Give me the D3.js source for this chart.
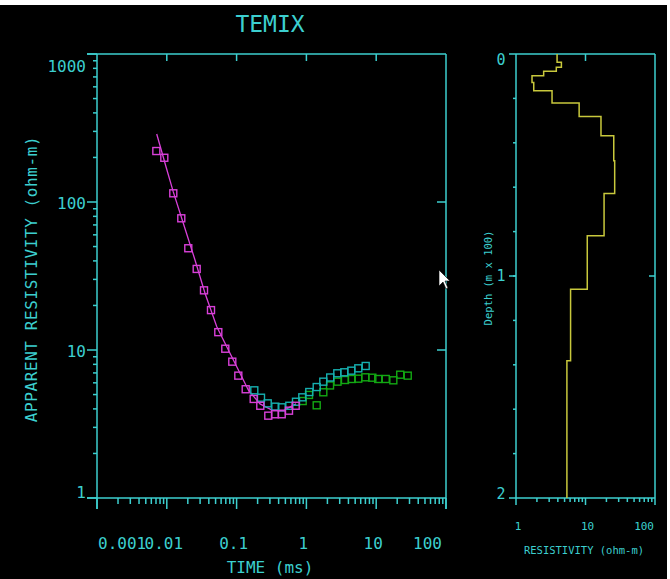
<!DOCTYPE html>
<html>
<head>
<meta charset="utf-8">
<script src="https://cdn.jsdelivr.net/npm/d3@7"></script>
<style>
  body { margin: 0; background: #fff; }
  svg text { font-family: "DejaVu Sans Mono", monospace; fill: #3ccfcf; }
</style>
</head>
<body>
<svg id="canvas" width="670" height="579"></svg>
<script>
// measured sounding data (time in ms, apparent resistivity in ohm-m)
const magT = [0.00708,0.00921,0.01239,0.01613,0.02032,0.02681,0.03412,0.04297,0.05468,0.06887,0.08675,0.1058,0.1350,0.1758,0.2185,0.2845,0.3549,0.4428,0.5632,0.7027]
const magRho = [221,199,114.5,77.6,48.7,35.3,25.3,18.6,13.2,10.2,8.34,6.71,5.43,4.67,4.20,3.60,3.68,3.68,3.89,4.20]
const cyanT = [0.1793,0.2236,0.2790,0.3585,0.4428,0.5689,0.7096,0.8736,1.100,1.405,1.747,2.193,2.772,3.49,4.40,5.54,7.07]
const cyanRho = [5.34,4.76,4.36,4.14,4.10,4.20,4.47,4.79,5.20,5.62,6.11,6.52,6.96,7.07,7.25,7.52,7.80]
const greenT = [0.885,1.089,1.405,1.747,2.18,2.79,3.57,4.46,5.53,6.98,8.80,10.7,13.7,17.6,22.1,28.3]
const greenRho = [4.52,4.97,4.23,5.18,5.76,6.11,6.27,6.37,6.40,6.54,6.50,6.37,6.37,6.24,6.81,6.71]
// calculated curve
const modelT = [0.00717,0.00974,0.01239,0.01723,0.02535,0.03526,0.05187,0.0804,0.1119,0.1471,0.2164,0.3216,0.4775,0.7096]
const modelRho = [288,173,117,71.8,40.6,24.2,14.4,9.5,6.96,5.37,4.32,3.93,3.93,4.32]
// layered model (depth in m x 100)
const layerRho = [3.9,4.5,3.8,2.5,1.7,1.8,3.3,8.1,16.7,25.5,26.3,18.5,10.6,6.1,5.4]
const layerTop = [0,0.037,0.06,0.078,0.098,0.128,0.165,0.221,0.282,0.368,0.481,0.628,0.819,1.06,1.382]
const maxDepth = 2

const timeTicks = [0.001,0.01,0.1,1,10,100]
const timeLabels = ["0.001","0.01","0.1","1","10","100"]
const rhoTicks = [1,10,100,1000]
const resTicks = [1,10,100]
const depthTicks = [0,1,2]

const axisCol = "#3ccfcf"
const svg = d3.select("#canvas")
svg.append("rect").attr("x", 0).attr("y", 5).attr("width", 667).attr("height", 574).attr("fill", "#000")

// ---------- main plot ----------
const x = d3.scaleLog().domain([0.001, 100]).range([97, 446])
const y = d3.scaleLog().domain([1, 1000]).range([498, 54])

const minorsOf = (lo, hi) => {
  let out = []
  for (let d = lo; d < hi; d *= 10) for (let k = 2; k <= 9; k++) out.push(d * k)
  return out
}

const line = (x1, y1, x2, y2) => svg.append("line")
  .attr("x1", x1).attr("y1", y1).attr("x2", x2).attr("y2", y2)
  .attr("stroke", axisCol).attr("stroke-width", 1.5)

// frame
line(x.range()[0], y(1000), x.range()[1], y(1000))
line(x.range()[0] - 10, y(1), x.range()[1], y(1))
line(x.range()[0], y(1000), x.range()[0], y(1) + 11)
line(x.range()[1], y(1000), x.range()[1], y(1) + 11)
line(x.range()[0] - 10, y(1000), x.range()[0], y(1000))

// bottom ticks
minorsOf(0.001, 100).forEach(v => line(x(v), y(1), x(v), y(1) + 6))
timeTicks.forEach(v => line(x(v), y(1), x(v), y(1) + 11))
timeTicks.slice(1, -1).forEach(v => line(x(v), y(1000), x(v), y(1000) + 7))
// left ticks
minorsOf(1, 1000).forEach(v => line(x(0.001) - 4, y(v), x(0.001), y(v)))
rhoTicks.forEach(v => line(x(0.001) - 10, y(v), x(0.001), y(v)))
;[10, 100].forEach(v => line(x(100) - 9, y(v), x(100), y(v)))

svg.selectAll(".tlab").data(timeTicks).enter().append("text")
  .attr("x", (d, i) => i === 0 ? x(d) + 1 : i === timeTicks.length - 1 ? x(d) - 4 : x(d) - 3)
  .attr("y", 549)
  .attr("text-anchor", (d, i) => i === 0 ? "start" : i === timeTicks.length - 1 ? "end" : "middle")
  .style("font-size", "16px")
  .text((d, i) => timeLabels[i])

svg.selectAll(".rlab").data(rhoTicks).enter().append("text")
  .attr("x", 86)
  .attr("y", d => d === 1000 ? y(d) + 18 : d === 1 ? y(d) - 0 : y(d) + 7)
  .attr("text-anchor", "end")
  .style("font-size", "16px")
  .text(d => d)

svg.append("text").attr("x", 270).attr("y", 32).attr("text-anchor", "middle")
  .style("font-size", "23px").text("TEMIX")
svg.append("text").attr("x", 270).attr("y", 573).attr("text-anchor", "middle")
  .style("font-size", "16px").text("TIME (ms)")
svg.append("text").attr("transform", "translate(37,279) rotate(-90)").attr("text-anchor", "middle")
  .style("font-size", "16px").style("letter-spacing", "0.6px").text("APPARENT RESISTIVITY (ohm-m)")

// model curve
svg.append("path")
  .datum(modelT.map((t, i) => [t, modelRho[i]]))
  .attr("d", d3.line().x(d => x(d[0])).y(d => y(d[1])))
  .attr("fill", "none").attr("stroke", "#d940d9").attr("stroke-width", 1.3)

const squares = (ts, rs, col) => svg.append("g").selectAll("rect")
  .data(ts.map((t, i) => [t, rs[i]])).enter().append("rect")
  .attr("x", d => x(d[0]) - 3.5).attr("y", d => y(d[1]) - 3.5)
  .attr("width", 7).attr("height", 7)
  .attr("fill", "none").attr("stroke", col).attr("stroke-width", 1.4)

squares(greenT, greenRho, "#13a813")
squares(cyanT, cyanRho, "#16b0b0")
squares(magT, magRho, "#d940d9")

// ---------- layered model panel ----------
const xr = d3.scaleLog().domain([1, 100]).range([516, 655])
const yr = d3.scaleLinear().domain([0, maxDepth]).range([54, 498])

line(xr(1) - 7, yr(0), xr(100), yr(0))
line(xr(1) - 7, yr(2), xr(100), yr(2))
line(xr(1), yr(0), xr(1), yr(2) + 7)
line(xr(100), yr(0), xr(100), yr(2) + 7)
minorsOf(1, 100).forEach(v => line(xr(v), yr(2), xr(v), yr(2) + 4))
line(xr(10), yr(2), xr(10), yr(2) + 7)
line(xr(10), yr(0), xr(10), yr(0) + 7)
d3.range(0.2, 2, 0.2).forEach(v => line(xr(1) - 3, yr(v), xr(1), yr(v)))
line(xr(1) - 7, yr(1), xr(1), yr(1))
line(xr(100) - 6, yr(1), xr(100), yr(1))

svg.selectAll(".xrlab").data(resTicks).enter().append("text")
  .attr("x", (d, i) => i === 2 ? xr(d) - 1 : xr(d) + 2)
  .attr("y", 530)
  .attr("text-anchor", (d, i) => i === 2 ? "end" : "middle")
  .style("font-size", "11px")
  .text(d => d)
svg.selectAll(".dlab").data(depthTicks).enter().append("text")
  .attr("x", 501).attr("y", d => d === 0 ? yr(d) + 11 : d === 2 ? yr(d) + 1 : yr(d) + 5)
  .attr("text-anchor", "middle")
  .style("font-size", "15px")
  .text(d => d)
svg.append("text").attr("x", 584).attr("y", 554).attr("text-anchor", "middle")
  .style("font-size", "10.5px").text("RESISTIVITY (ohm-m)")
svg.append("text").attr("transform", "translate(492,278) rotate(-90)").attr("text-anchor", "middle")
  .style("font-size", "10.5px").text("Depth (m x 100)")

let steps = []
layerRho.forEach((r, i) => {
  const bot = i < layerTop.length - 1 ? layerTop[i + 1] : maxDepth
  steps.push([r, layerTop[i]], [r, bot])
})
svg.append("path").datum(steps)
  .attr("d", d3.line().x(d => xr(d[0])).y(d => yr(d[1])))
  .attr("fill", "none").attr("stroke", "#c8c83c").attr("stroke-width", 1.5)

// mouse pointer left on the screen
svg.append("path").attr("d", "M439,270 L439,286 L443,282 L446,289 L448,288 L445,281 L450,281 Z")
  .attr("fill", "#fff").attr("stroke", "#000").attr("stroke-width", 0.6)
</script>
</body>
</html>
